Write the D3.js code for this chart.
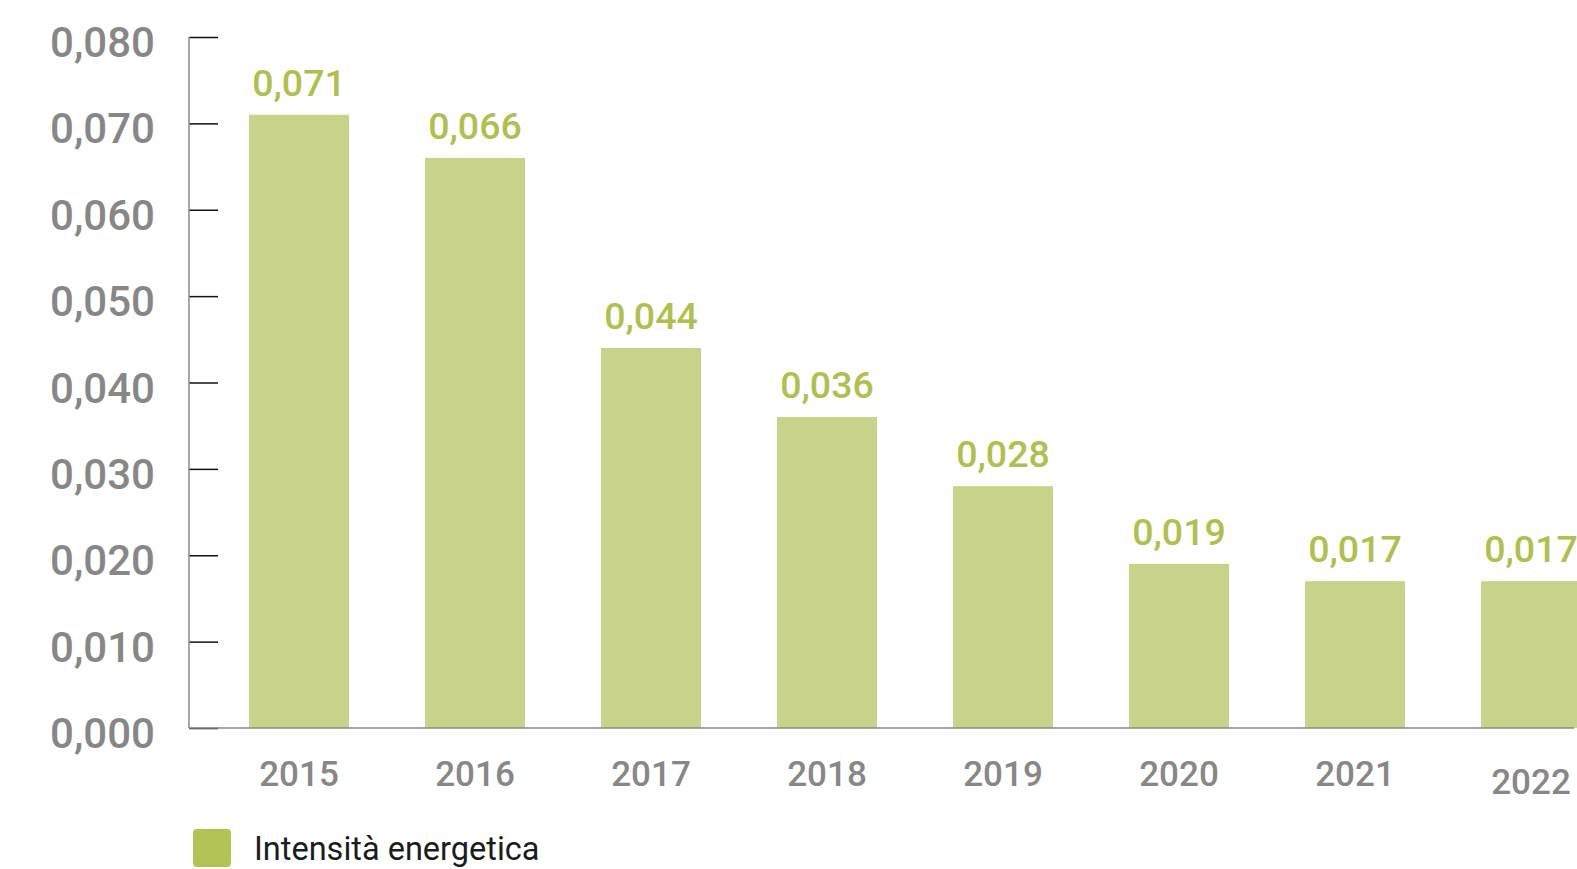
<!DOCTYPE html>
<html>
<head>
<meta charset="utf-8">
<script src="https://cdn.jsdelivr.net/npm/d3@7"></script>
<style>
  html, body { margin: 0; padding: 0; background: #fff; }
  svg { display: block; font-family: Roboto, "Noto Sans", sans-serif; }
</style>
</head>
<body>
<svg id="chart" width="1577" height="869"></svg>
<script>
// Energy intensity by year
const years = ["2015", "2016", "2017", "2018", "2019", "2020", "2021", "2022"];
const intensity = [0.071, 0.066, 0.044, 0.036, 0.028, 0.019, 0.017, 0.017];
const yTicks = [0, 0.01, 0.02, 0.03, 0.04, 0.05, 0.06, 0.07, 0.08];
const seriesName = "Intensità energetica";

const fmt = v => d3.format(".3f")(v).replace(".", ",");

const svg = d3.select("#chart");

const x = d3.scaleBand()
  .domain(years)
  .range([249, 1581])
  .paddingInner(0.4318)
  .paddingOuter(0);

const y = d3.scaleLinear()
  .domain([0, 0.08])
  .range([728, 37]);

const axisX0 = 189;
const axisX1 = 1574;

// bars
svg.append("g").selectAll("rect")
  .data(years)
  .join("rect")
  .attr("x", d => x(d))
  .attr("y", (d, i) => y(intensity[i]))
  .attr("width", x.bandwidth())
  .attr("height", (d, i) => y(0) - y(intensity[i]))
  .attr("fill", "#c8d389");

// y axis: ticks point inward to the right of the axis line
const yAxis = svg.append("g")
  .attr("transform", `translate(${axisX0},0)`)
  .call(d3.axisRight(y).tickValues(yTicks).tickSize(29).tickFormat(""));
yAxis.select(".domain").remove();
yAxis.selectAll(".tick line").attr("stroke", "#111").attr("stroke-width", 1.5);

svg.append("line")
  .attr("x1", axisX0).attr("x2", axisX0)
  .attr("y1", y(0.08)).attr("y2", y(0))
  .attr("stroke", "#8a8a8a").attr("stroke-width", 1.5);

svg.append("g").selectAll("text")
  .data(yTicks)
  .join("text")
  .attr("x", 155)
  .attr("y", d => y(d) + 20)
  .attr("text-anchor", "end")
  .attr("font-size", 42)
  .attr("font-weight", 500)
  .attr("fill", "#878787")
  .text(fmt);

// x axis baseline
svg.append("line")
  .attr("x1", axisX0).attr("x2", axisX1)
  .attr("y1", y(0)).attr("y2", y(0))
  .attr("stroke", "#8a8a8a").attr("stroke-width", 1.5);

// year labels
svg.append("g").selectAll("text")
  .data(years)
  .join("text")
  .attr("x", d => x(d) + x.bandwidth() / 2)
  .attr("y", (d, i) => y(0) + (i === years.length - 1 ? 66 : 58))
  .attr("text-anchor", "middle")
  .attr("font-size", 35)
  .attr("font-weight", 500)
  .attr("fill", "#878787")
  .text(d => d);

// value labels
svg.append("g").selectAll("text")
  .data(years)
  .join("text")
  .attr("x", d => x(d) + x.bandwidth() / 2)
  .attr("y", (d, i) => y(intensity[i]) - 19)
  .attr("text-anchor", "middle")
  .attr("font-size", 37.5)
  .attr("font-weight", 500)
  .attr("fill", "#b0c050")
  .text((d, i) => fmt(intensity[i]));

// legend
const legend = svg.append("g").attr("transform", "translate(193,829)");
legend.append("rect")
  .attr("width", 38).attr("height", 38).attr("rx", 4)
  .attr("fill", "#b2c255");
legend.append("text")
  .attr("x", 61).attr("y", 31)
  .attr("font-size", 32.5)
  .attr("fill", "#1c1c1c")
  .text(seriesName);
</script>
</body>
</html>
